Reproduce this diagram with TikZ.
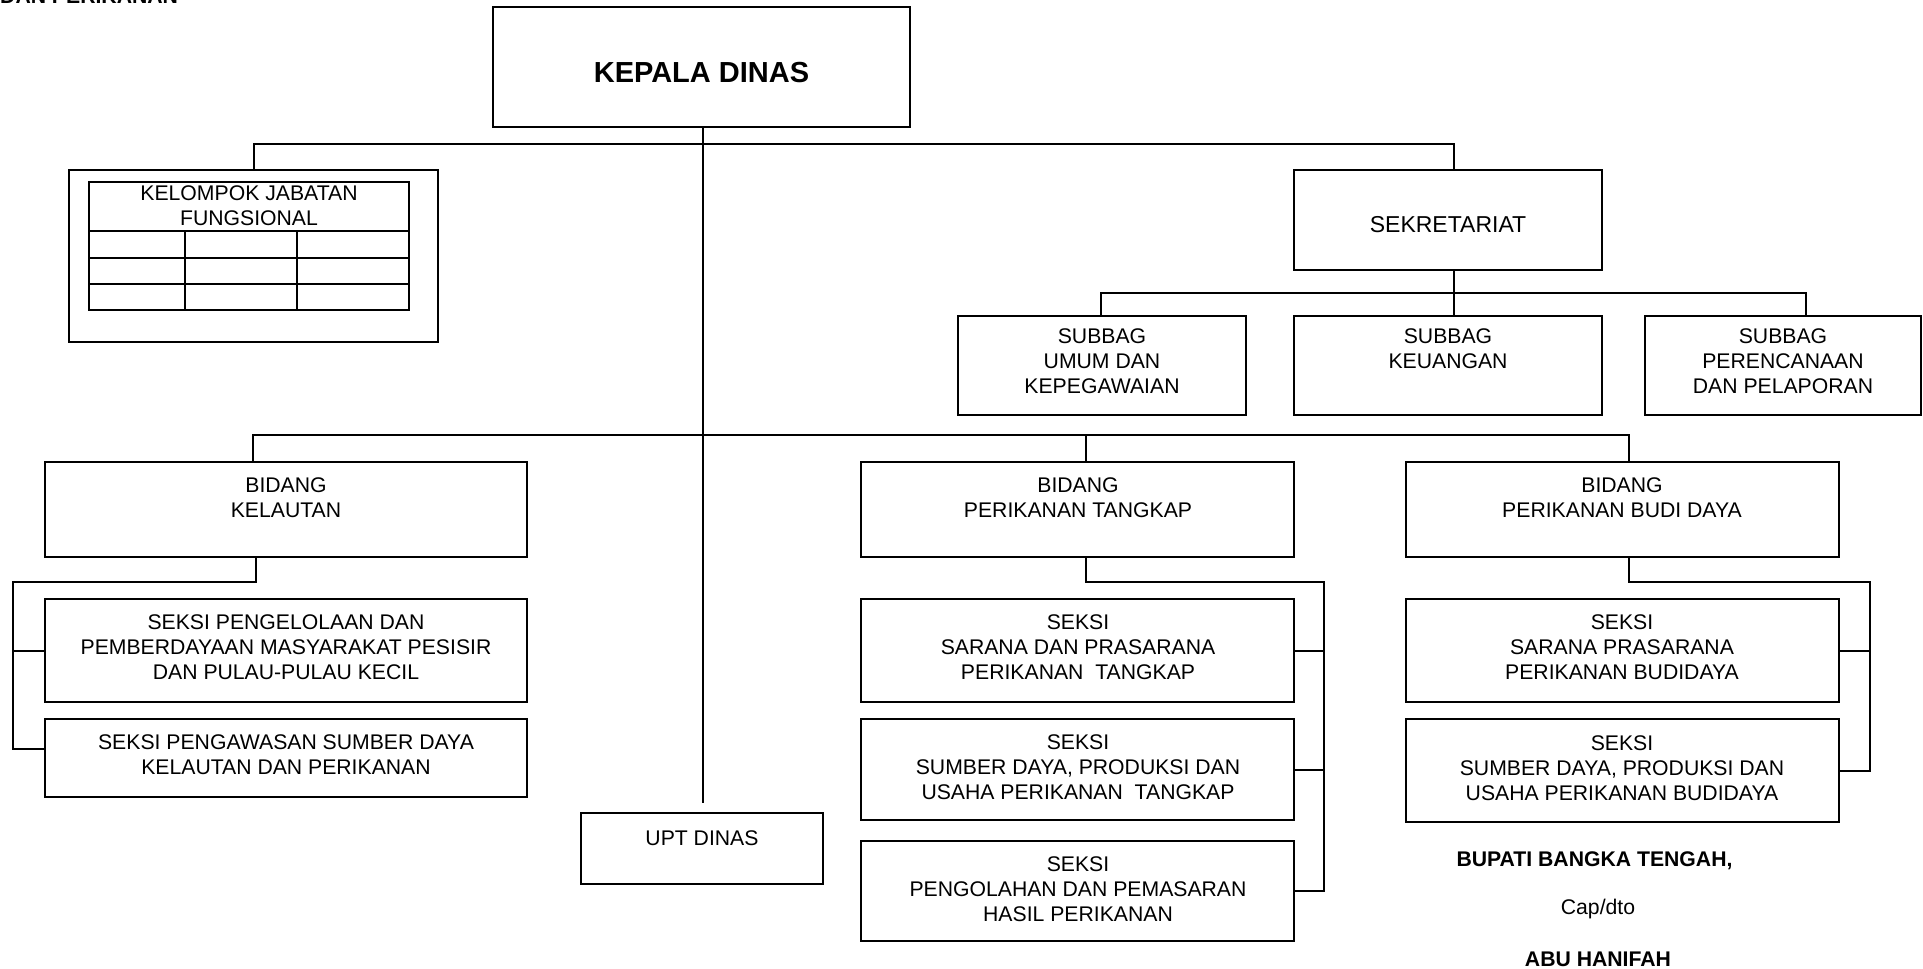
\documentclass[tikz,border=0pt]{standalone}
\usepackage{fontspec}
\setmainfont{Liberation Sans}
\begin{document}
\begin{tikzpicture}[x=1pt,y=-1pt,
  box/.style={draw, line width=2pt, inner sep=0pt, outer sep=0pt, anchor=north west},
  conn/.style={line width=2pt},
  gridline/.style={line width=2pt},
  txt/.style={font=\fontsize{21.2}{25}\selectfont, align=center, inner sep=0pt},
  btxt/.style={font=\fontsize{21.2}{25}\selectfont\bfseries, inner sep=0pt},
]
\useasboundingbox (0,0) rectangle (1923,969);
\clip (0,0) rectangle (1923,969);

% ---------- boxes ----------
\node[box, minimum width=417pt, minimum height=120pt] (kep) at (493,7) {};
\node[box, minimum width=369pt, minimum height=172pt] (kel) at (69,170) {};
\node[box, minimum width=320pt, minimum height=128pt] (tbl) at (89,182) {};
\node[box, minimum width=308pt, minimum height=100pt] (sek) at (1294,170) {};
\node[box, minimum width=288pt, minimum height=99pt] (sb1) at (958,316) {};
\node[box, minimum width=308pt, minimum height=99pt] (sb2) at (1294,316) {};
\node[box, minimum width=276pt, minimum height=99pt] (sb3) at (1645,316) {};
\node[box, minimum width=482pt, minimum height=95pt] (bk) at (45,462) {};
\node[box, minimum width=482pt, minimum height=103pt] (sk1) at (45,599) {};
\node[box, minimum width=482pt, minimum height=78pt] (sk2) at (45,719) {};
\node[box, minimum width=242pt, minimum height=71pt] (upt) at (581,813) {};
\node[box, minimum width=433pt, minimum height=95pt] (bt) at (861,462) {};
\node[box, minimum width=433pt, minimum height=103pt] (st1) at (861,599) {};
\node[box, minimum width=433pt, minimum height=101pt] (st2) at (861,719) {};
\node[box, minimum width=433pt, minimum height=100pt] (st3) at (861,841) {};
\node[box, minimum width=433pt, minimum height=95pt] (bb) at (1406,462) {};
\node[box, minimum width=433pt, minimum height=103pt] (sbd1) at (1406,599) {};
\node[box, minimum width=433pt, minimum height=103pt] (sbd2) at (1406,719) {};

% table grid inside Kelompok Jabatan Fungsional
\draw[gridline] (89,231) -- (409,231);
\draw[gridline] (89,258) -- (409,258);
\draw[gridline] (89,284) -- (409,284);
\draw[gridline] (185,231) -- (185,310);
\draw[gridline] (297,231) -- (297,310);

% ---------- coordinates ----------
\coordinate (h1) at (703,144);
\coordinate (h2) at (703,435);
\coordinate (vend) at (703,803);
\coordinate (xk) at (254,0);
\coordinate (xs) at (1454,0);
\coordinate (hs) at (0,293);
\coordinate (x1) at (1101,0);
\coordinate (x3) at (1806,0);
\coordinate (xb1) at (253,0);
\coordinate (xb2) at (1086,0);
\coordinate (xb3) at (1629,0);
\coordinate (kd) at (256,582);
\coordinate (kl) at (13,582);
\coordinate (kb2) at (13,749);
\coordinate (td) at (1086,582);
\coordinate (tr) at (1324,582);
\coordinate (bd) at (1629,582);
\coordinate (br) at (1870,582);

% ---------- connectors ----------
\draw[conn] (kep.south -| h1) -- (vend);
\draw[conn] (kel.north -| xk) -- (xk |- h1) -- (xs |- h1) -- (sek.north -| xs);
\draw[conn] (sek.south -| xs) -- (xs |- hs);
\draw[conn] (sb1.north -| x1) -- (x1 |- hs) -- (x3 |- hs) -- (sb3.north -| x3);
\draw[conn] (xs |- hs) -- (sb2.north -| xs);
\draw[conn] (bk.north -| xb1) -- (xb1 |- h2) -- (xb3 |- h2) -- (bb.north -| xb3);
\draw[conn] (xb2 |- h2) -- (bt.north -| xb2);
% kelautan
\draw[conn] (bk.south -| kd) -- (kd) -- (kl) -- (kb2) -- (kb2 -| sk2.west);
\draw[conn] (sk1.west -| kl) -- (sk1.west);
% tangkap
\draw[conn] (bt.south -| td) -- (td) -- (tr) -- (tr |- st3.east) -- (st3.east);
\draw[conn] (st1.east) -- (st1.east -| tr);
\draw[conn] (st2.east) -- (st2.east -| tr);
% budidaya
\draw[conn] (bb.south -| bd) -- (bd) -- (br) -- (br |- sbd2.east) -- (sbd2.east);
\draw[conn] (sbd1.east) -- (sbd1.east -| br);

% ---------- texts ----------
\node[btxt, anchor=base west] (ttop) at (0,3) {DAN PERIKANAN};
\node[font=\fontsize{29}{34}\selectfont\bfseries, inner sep=0pt, anchor=base] (tkep) at (701.5,82) {KEPALA DINAS};
\node[txt, anchor=north] (tkel) at (249,185) {KELOMPOK JABATAN\\FUNGSIONAL};
\node[txt, font=\fontsize{23}{27}\selectfont, anchor=base] (tsek) at (1448,232) {SEKRETARIAT};
\node[txt, anchor=north] (tsb1) at (1102,328) {SUBBAG\\UMUM DAN\\KEPEGAWAIAN};
\node[txt, anchor=north] (tsb2) at (1448,328) {SUBBAG\\KEUANGAN};
\node[txt, anchor=north] (tsb3) at (1783,328) {SUBBAG\\PERENCANAAN\\DAN PELAPORAN};
\node[txt, anchor=north] (tbk) at (286,477) {BIDANG\\KELAUTAN};
\node[txt, anchor=north] (tbt) at (1078,477) {BIDANG\\PERIKANAN TANGKAP};
\node[txt, anchor=north] (tbb) at (1622,477) {BIDANG\\PERIKANAN BUDI DAYA};
\node[txt, anchor=north] (tsk1) at (286,614) {SEKSI PENGELOLAAN DAN\\PEMBERDAYAAN MASYARAKAT PESISIR\\DAN PULAU-PULAU KECIL};
\node[txt, anchor=north] (tsk2) at (286,734) {SEKSI PENGAWASAN SUMBER DAYA\\KELAUTAN DAN PERIKANAN};
\node[txt, anchor=north] (tst1) at (1078,614) {SEKSI\\SARANA DAN PRASARANA\\PERIKANAN\ \ TANGKAP};
\node[txt, anchor=north] (tst2) at (1078,734) {SEKSI\\SUMBER DAYA, PRODUKSI DAN\\USAHA PERIKANAN\ \ TANGKAP};
\node[txt, anchor=north] (tst3) at (1078,856) {SEKSI\\PENGOLAHAN DAN PEMASARAN\\HASIL PERIKANAN};
\node[txt, anchor=north] (tsbd1) at (1622,614) {SEKSI\\SARANA PRASARANA\\PERIKANAN BUDIDAYA};
\node[txt, anchor=north] (tsbd2) at (1622,735) {SEKSI\\SUMBER DAYA, PRODUKSI DAN\\USAHA PERIKANAN BUDIDAYA};
\node[txt, anchor=base] (tupt) at (702,845) {UPT DINAS};
\node[btxt, anchor=base] (tbup) at (1594.5,866) {BUPATI BANGKA TENGAH,};
\node[txt, anchor=base] (tcap) at (1598,914) {Cap/dto};
\node[btxt, anchor=base] (tabu) at (1598,966) {ABU HANIFAH};
\end{tikzpicture}
\end{document}
